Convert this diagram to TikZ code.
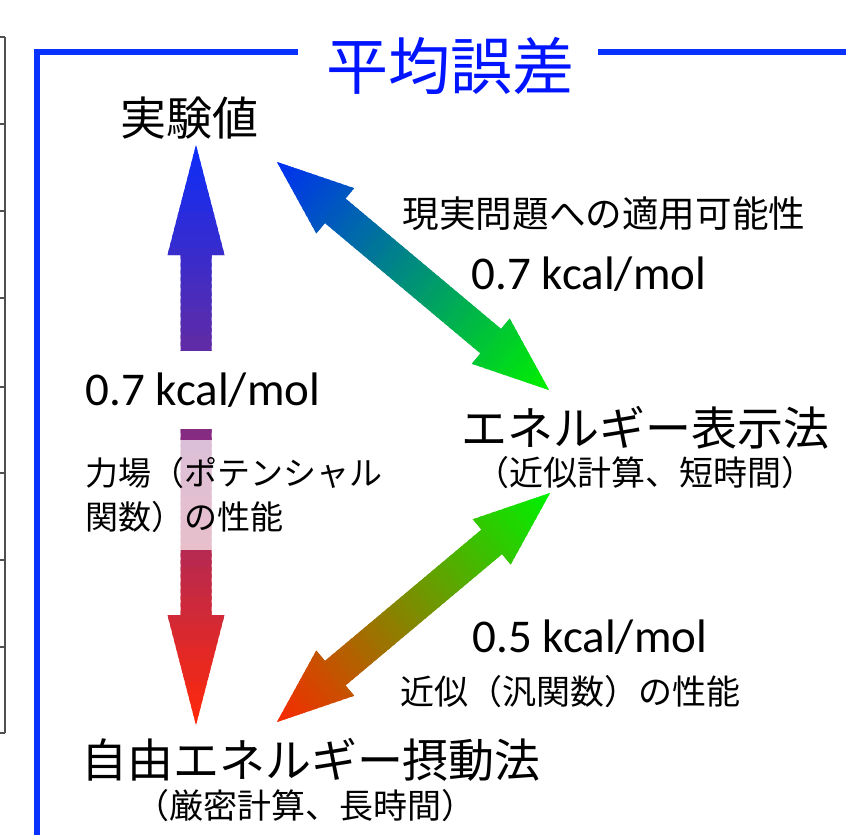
\documentclass[tikz,border=0pt]{standalone}
\usepackage{fontspec}
\setmainfont{Noto Sans CJK JP}
\newfontfamily\latinfont{Carlito}
\definecolor{frameblue}{RGB}{10,50,255}
\definecolor{titleblue}{RGB}{0,20,255}
\definecolor{cblue}{RGB}{10,45,250}
\definecolor{cred}{RGB}{255,40,10}
\definecolor{cgreen}{RGB}{0,240,0}
\definecolor{cblueb}{RGB}{0,45,245}
\definecolor{credb}{RGB}{250,40,0}
\definecolor{tablegray}{RGB}{80,80,80}

% #1 tail coordinate, #2 angle, #3 length, #4 head length, #5 head half width,
% #6 shaft half width, #7 colour at tail, #8 colour at head, #9 steps
\newcommand{\gradarrow}[9]{%
  \begin{scope}[shift={(#1)}, rotate=#2, x=1pt, y=1pt]
    \clip (0,0) -- (#4,#5) -- (#4,#6) -- (#3-#4,#6) -- (#3-#4,#5) -- (#3,0)
      -- (#3-#4,-#5) -- (#3-#4,-#6) -- (#4,-#6) -- (#4,-#5) -- cycle;
    \pgfmathsetmacro\stepw{#3/#9}
    \foreach \i in {0,...,#9} {
      \pgfmathtruncatemacro\pct{round(\i/#9*100)}
      \fill[#8!\pct!#7] ({\stepw*(\i-0.5)-2},{-#5-1}) rectangle ({\stepw*(\i+0.5)+2},{#5+1});
    }
  \end{scope}}

\tikzset{
  jp/.style={inner sep=0pt, text=black},
  big/.style={jp, font=\fontsize{46}{55}\selectfont},
  small/.style={jp, font=\fontsize{34}{44}\selectfont},
  num/.style={inner sep=0pt, text=black, font=\latinfont\fontsize{47}{56}\selectfont},
}

\begin{document}
\begin{tikzpicture}[x=1pt, y=-1pt]
\useasboundingbox (0,0) rectangle (846,835);

% left table edge
\draw[tablegray, line width=1.6pt] (5,37) -- (5,733);
\foreach \yy in {37,124,211,298,387,473,560,647,733}
  \draw[tablegray, line width=1.6pt] (0,\yy) -- (5,\yy);

% frame
\coordinate (fTL) at (37,52);
\coordinate (fBL) at (37,845);
\coordinate (fGapL) at (298,52);
\coordinate (fGapR) at (598,52);
\coordinate (fTR) at (855,52);
\draw[frameblue, line width=5.5pt] (fGapL) -- (fTL) -- (fBL);
\draw[frameblue, line width=5.5pt] (fGapR) -- (fTR);
\node[inner sep=0pt, text=titleblue, font=\fontsize{62}{70}\selectfont] (title) at (450,66) {平均誤差};

% arrow end points
\coordinate (vTop) at (196,145);
\coordinate (vBot) at (196,725);
\coordinate (dTL) at (277,162);
\coordinate (dTR) at (549,390);
\coordinate (eBR) at (550,493);
\coordinate (eBL) at (277,722);

% arrows
\gradarrow{vTop}{-90}{580}{110}{28.5}{15.5}{cblue}{cred}{80}
\gradarrow{dTL}{-39.97}{354.9}{76}{29.5}{16}{cblueb}{cgreen}{60}
\gradarrow{eBL}{39.99}{356.3}{76}{29.5}{16}{credb}{cgreen}{60}

% texts
\node[big] (exp) at (189,118) {実験値};
\node[big] (ene) at (645,428) {エネルギー表示法};
\node[small] (enesub) at (645,473) {（近似計算、短時間）};
\node[big] (fe) at (311,760) {自由エネルギー摂動法};
\node[small] (fesub) at (305,806) {（厳密計算、長時間）};

\node[jp, font=\fontsize{36.6}{44}\selectfont] (app) at (604,214) {現実問題への適用可能性};
\node[num] (err1) at (589,274) {0.7 kcal/mol};
\node[num, fill=white, minimum height=78pt, inner xsep=2pt] (err2) at (203,390) {0.7 kcal/mol};
\node[jp, font=\fontsize{33}{44}\selectfont, align=left, anchor=west, fill=white,
      fill opacity=0.7, text opacity=1, minimum height=110pt] (ff) at (85,495)
      {力場（ポテンシャル\\関数）の性能};
\node[num] (err3) at (590,637) {0.5 kcal/mol};
\node[small] (dft) at (570,692) {近似（汎関数）の性能};
\end{tikzpicture}
\end{document}
